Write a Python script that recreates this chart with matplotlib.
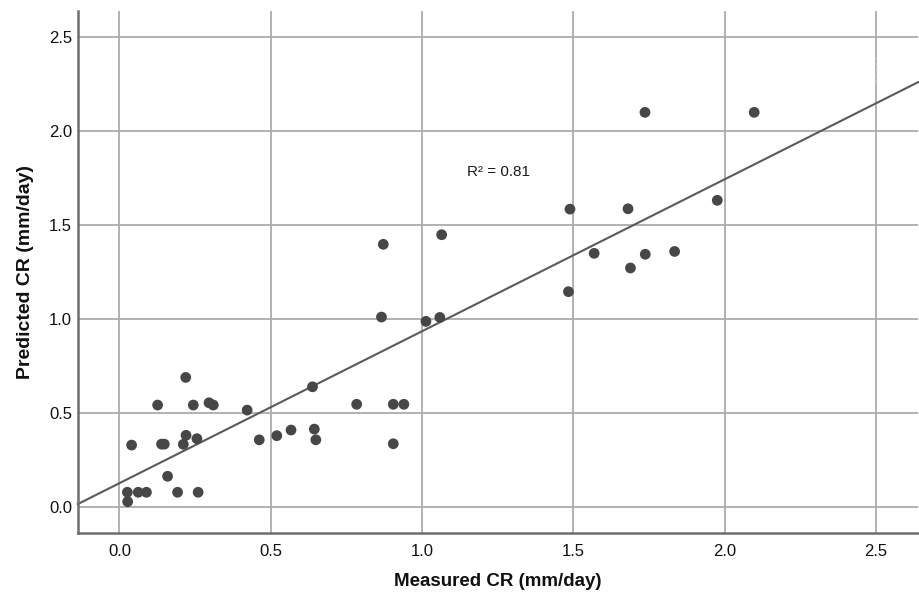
import matplotlib
matplotlib.use("Agg")
import matplotlib.pyplot as plt

plt.rcParams['font.family'] = ['Liberation Sans', 'DejaVu Sans']

measured = [0.026, 0.027, 0.040, 0.062, 0.089, 0.126, 0.139, 0.148, 0.159, 0.192,
            0.211, 0.219, 0.220, 0.244, 0.256, 0.260, 0.296, 0.310, 0.422, 0.462,
            0.520, 0.567, 0.638, 0.644, 0.649, 0.784, 0.866, 0.872, 0.905, 0.905,
            0.940, 1.013, 1.059, 1.065, 1.484, 1.489, 1.569, 1.681, 1.689, 1.737,
            1.738, 1.835, 1.976, 2.098]
predicted = [0.077, 0.027, 0.328, 0.077, 0.077, 0.541, 0.333, 0.333, 0.162, 0.077,
             0.332, 0.688, 0.380, 0.541, 0.362, 0.077, 0.553, 0.541, 0.514, 0.356,
             0.378, 0.408, 0.638, 0.413, 0.356, 0.545, 1.009, 1.396, 0.545, 0.335,
             0.545, 0.986, 1.007, 1.447, 1.144, 1.583, 1.348, 1.585, 1.270, 2.098,
             1.343, 1.358, 1.630, 2.098]

fit_intercept = 0.1255
fit_slope = 0.808
r2_label = "R\u00b2 = 0.81"
x_ticks = [0.0, 0.5, 1.0, 1.5, 2.0, 2.5]
y_ticks = [0.0, 0.5, 1.0, 1.5, 2.0, 2.5]
x_label = "Measured CR (mm/day)"
y_label = "Predicted CR (mm/day)"

fig = plt.figure(figsize=(9.2, 5.92), dpi=100)
ax = fig.add_axes([0.0845, 0.1002, 0.9135, 0.8812])

xmin, xmax = -0.138, 2.64
ymin, ymax = -0.138, 2.637
ax.set_xlim(xmin, xmax)
ax.set_ylim(ymin, ymax)

ax.set_xticks(x_ticks)
ax.set_yticks(y_ticks)
ax.set_xticklabels([f"{v:.1f}" for v in x_ticks])
ax.set_yticklabels([f"{v:.1f}" for v in y_ticks])
ax.grid(True, color='#ababab', linewidth=1.3, zorder=0)
ax.set_axisbelow(True)

for s in ['top', 'right']:
    ax.spines[s].set_visible(False)
for s in ['left', 'bottom']:
    ax.spines[s].set_color('#6e6e6e')
    ax.spines[s].set_linewidth(1.8)

ax.tick_params(axis='both', length=0, labelsize=12, colors='#111111')
ax.tick_params(axis='y', pad=4)
ax.tick_params(axis='x', pad=8)

# regression line
lx = [xmin, xmax]
ly = [fit_intercept + fit_slope * v for v in lx]
ax.plot(lx, ly, color='#5a5a5a', linewidth=1.5, zorder=2, clip_on=False)

ax.scatter(measured, predicted, s=60, color='#474747', edgecolors='none', zorder=3)

# faint dotted artifact near x=2.5
ax.plot([2.5, 2.5], [2.26, 2.40], color='#c8c8c8', linewidth=1.0, linestyle=(0, (2, 2)), zorder=1)

ax.text(1.148, 1.78, r2_label, fontsize=11, color='#1a1a1a', ha='left', va='center')

ax.set_xlabel(x_label, fontsize=13.5, fontweight='bold', color='#111111', labelpad=10)
ax.set_ylabel(y_label, fontsize=14, fontweight='bold', color='#111111', labelpad=11)

fig.savefig("out.png", dpi=100)
